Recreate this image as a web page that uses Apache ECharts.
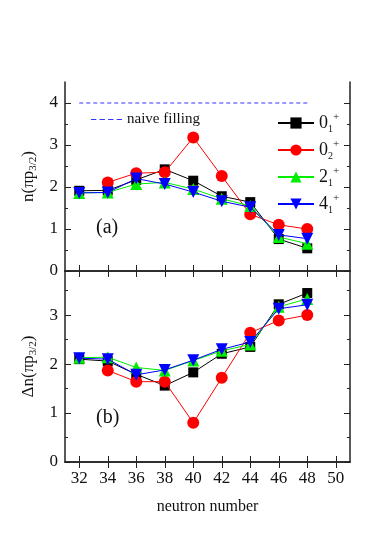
<!DOCTYPE html>
<html>
<head>
<meta charset="utf-8">
<script src="https://cdn.jsdelivr.net/npm/echarts@6/dist/echarts.min.js"></script>
<style>
  html, body { margin: 0; padding: 0; background: #fff; }
  #main { width: 381px; height: 545px; }
</style>
</head>
<body>
<div id="main"></div>
<script>
// neutron numbers
var neutrons = [32, 34, 36, 38, 40, 42, 44, 46, 48];
var xTicks = [32, 34, 36, 38, 40, 42, 44, 46, 48, 50];

// (a) occupation n(pi p3/2)
var nState01 = [1.91, 1.92, 2.17, 2.42, 2.15, 1.78, 1.64, 0.76, 0.54];
var nState02 = [null, 2.11, 2.33, 2.35, 3.18, 2.26, 1.35, 1.10, 1.00];
var nState21 = [1.86, 1.87, 2.07, 2.11, 1.95, 1.72, 1.55, 0.81, 0.65];
var nState41 = [1.86, 1.87, 2.20, 2.07, 1.88, 1.66, 1.52, 0.86, 0.77];
var naiveX = [32, 48];
var naiveY = [4, 4];

// (b) delta n(pi p3/2)
var dState01 = [2.10, 2.06, 1.79, 1.56, 1.83, 2.21, 2.35, 3.22, 3.45];
var dState02 = [null, 1.87, 1.64, 1.64, 0.80, 1.72, 2.64, 2.89, 3.00];
var dState21 = [2.13, 2.14, 1.93, 1.87, 2.07, 2.27, 2.40, 3.17, 3.33];
var dState41 = [2.12, 2.10, 1.78, 1.88, 2.08, 2.30, 2.45, 3.13, 3.21];

var stateNames = ['0_1', '0_2', '2_1', '4_1'];
var stateColors = ['#000000', '#ff0000', '#00ee00', '#0000ff'];
var stateSymbols = ['rect', 'circle', 'triangle', 'triangle'];
var stateRotate = [0, 0, 0, 180];
var stateSizes = [10, 12, 12, 12];

var FONT = 'Liberation Serif';

function pairs(xs, ys) {
  return xs.map(function (x, i) { return [x, ys[i]]; });
}

function stateSeries(vals, k, xi, yi) {
  return {
    name: stateNames[k],
    type: 'line',
    xAxisIndex: xi,
    yAxisIndex: yi,
    data: pairs(neutrons, vals),
    symbol: stateSymbols[k],
    symbolRotate: stateRotate[k],
    symbolSize: stateSizes[k],
    itemStyle: { color: stateColors[k] },
    lineStyle: { color: stateColors[k], width: 1 },
    z: 2 + k,
    animation: false
  };
}

function xAxisPair(grid, showLabels) {
  var base = {
    type: 'value', gridIndex: grid, min: 31, max: 51,
    axisLine: { lineStyle: { color: '#222', width: 1.5 } },
    splitLine: { show: false }
  };
  var bottom = Object.assign({}, base, {
    position: 'bottom',
    axisTick: { inside: true, length: 6, customValues: xTicks, lineStyle: { color: '#222' } },
    axisLabel: { show: showLabels, customValues: xTicks, fontFamily: FONT, fontSize: 17, color: '#111', margin: 8 }
  });
  if (showLabels) {
    bottom.name = 'neutron number';
    bottom.nameLocation = 'middle';
    bottom.nameGap = 37;
    bottom.nameTextStyle = { fontFamily: FONT, fontSize: 16, color: '#111' };
  }
  var top = Object.assign({}, base, {
    position: 'top',
    axisTick: { inside: true, length: 6, customValues: xTicks, lineStyle: { color: '#222' } },
    axisLabel: { show: false }
  });
  return [bottom, top];
}

function yAxes(grid, max, major, minor, name) {
  var base = {
    type: 'value', gridIndex: grid, min: 0, max: max,
    axisLine: { show: true, lineStyle: { color: '#222', width: 1.5 } },
    splitLine: { show: false }
  };
  var out = [];
  ['left', 'right'].forEach(function (pos) {
    var maj = Object.assign({}, base, {
      position: pos,
      axisTick: { inside: true, length: 6, customValues: major, lineStyle: { color: '#222' } },
      axisLabel: { show: pos === 'left', customValues: major, fontFamily: FONT, fontSize: 17, color: '#111', margin: 7 }
    });
    if (pos === 'left') {
      maj.name = name;
      maj.nameLocation = 'middle';
      maj.nameRotate = 90;
      maj.nameGap = 25;
      maj.nameTextStyle = {
        fontFamily: FONT, fontSize: 17, color: '#111',
        rich: { s: { fontFamily: FONT, fontSize: 11, color: '#111', verticalAlign: 'bottom', padding: [10, 0, 0, 0] } }
      };
    }
    var mnr = Object.assign({}, base, {
      position: pos,
      axisLine: { show: false },
      axisTick: { inside: true, length: 3, customValues: minor, lineStyle: { color: '#222' } },
      axisLabel: { show: false, customValues: minor }
    });
    out.push(maj, mnr);
  });
  return out;
}

var legendRich = {
  n: { fontFamily: FONT, fontSize: 18, color: '#111' },
  sub: { fontFamily: FONT, fontSize: 10, color: '#111', verticalAlign: 'bottom', padding: [12, 0, 0, 0] },
  sup: { fontFamily: FONT, fontSize: 11, color: '#111', verticalAlign: 'top', padding: [0, 0, 10, 0] }
};

var chart = echarts.init(document.getElementById('main'));

var series = [
  {
    name: 'naive filling', type: 'line', xAxisIndex: 0, yAxisIndex: 0,
    data: pairs(naiveX, naiveY), symbol: 'none',
    lineStyle: { color: '#3333ff', width: 1, type: [4, 3] },
    itemStyle: { color: '#3333ff' },
    animation: false
  },
  stateSeries(nState01, 0, 0, 0),
  stateSeries(nState02, 1, 0, 0),
  stateSeries(nState21, 2, 0, 0),
  stateSeries(nState41, 3, 0, 0),
  stateSeries(dState01, 0, 2, 4),
  stateSeries(dState02, 1, 2, 4),
  stateSeries(dState21, 2, 2, 4),
  stateSeries(dState41, 3, 2, 4)
];

var option = {
  backgroundColor: '#fff',
  animation: false,
  grid: [
    { left: 65, right: 31, top: 82, height: 189 },
    { left: 65, right: 31, top: 271, height: 191 }
  ],
  xAxis: xAxisPair(0, false).concat(xAxisPair(1, true)),
  yAxis: yAxes(0, 4.5, [0, 1, 2, 3, 4], [0.5, 1.5, 2.5, 3.5], 'n(πp{s|3/2})')
    .concat(yAxes(1, 3.9, [0, 1, 2, 3], [0.5, 1.5, 2.5, 3.5], 'Δn(πp{s|3/2})')),
  legend: [
    {
      data: [{
        name: 'naive filling',
        icon: 'path://M0 0H5V1H0Z M8 0H13V1H8Z M16 0H21V1H16Z M24 0H29V1H24Z',
        itemStyle: { color: '#3333ff' }
      }],
      left: 86, top: 107, itemWidth: 31, itemHeight: 1.2, itemGap: 5,
      textStyle: { fontFamily: FONT, fontSize: 15, color: '#111' }
    },
    {
      data: stateNames, orient: 'vertical', left: 272, top: 107,
      itemWidth: 36, itemHeight: 14, itemGap: 5,
      formatter: function (name) {
        var p = name.split('_');
        return '{n|' + p[0] + '}{sub|' + p[1] + '}{sup|+}';
      },
      textStyle: { rich: legendRich }
    }
  ],
  graphic: [
    { type: 'text', left: 96, top: 218, style: { text: '(a)', font: '20px "Liberation Serif"', fill: '#111' } },
    { type: 'text', left: 96, top: 408, style: { text: '(b)', font: '20px "Liberation Serif"', fill: '#111' } }
  ],
  series: series
};

chart.setOption(option);
</script>
</body>
</html>
